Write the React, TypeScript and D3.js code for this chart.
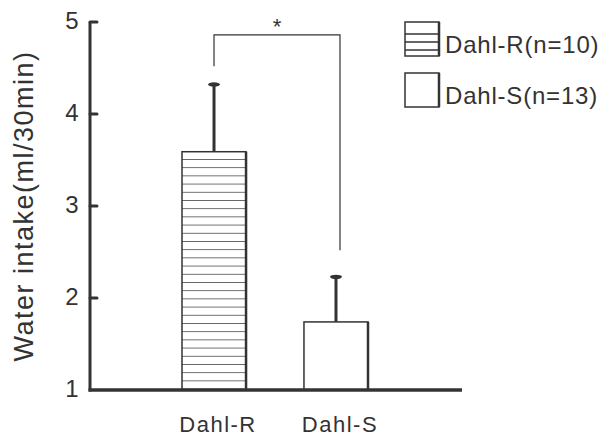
import { useEffect, useRef } from "react";
import * as d3 from "d3";

const categories = ["Dahl-R", "Dahl-S"];
const means = [3.59, 1.74];
const sems = [0.73, 0.49];
const legendLabels = ["Dahl-R(n=10)", "Dahl-S(n=13)"];
const yTicks = [1, 2, 3, 4, 5];
// significance bracket: left foot, top, right foot (in data units)
const bracket = [4.52, 4.86, 2.52];

export default function App() {
  const svgRef = useRef<SVGSVGElement>(null);

  useEffect(() => {
    const ink = "#333";
    const font = "'Liberation Sans', Arial, sans-serif";

    const svg = d3.select(svgRef.current);
    svg.selectAll("*").remove();

    const y = d3.scaleLinear().domain([1, 5]).range([390, 22]);
    const x = d3
      .scaleBand<string>()
      .domain(categories)
      .range([182, 368])
      .paddingInner(0.475)
      .paddingOuter(0);

    const defs = svg.append("defs");
    const pat = defs
      .append("pattern")
      .attr("id", "hatch")
      .attr("patternUnits", "userSpaceOnUse")
      .attr("width", 10)
      .attr("height", 8.2)
      .attr("y", y(means[0]));
    pat.append("rect").attr("width", 10).attr("height", 8.2).attr("fill", "#fff");
    pat
      .append("line")
      .attr("x1", 0)
      .attr("x2", 10)
      .attr("y1", 8.2)
      .attr("y2", 8.2)
      .attr("stroke", ink)
      .attr("stroke-width", 1.4);

    // bars
    categories.forEach((c, i) => {
      const bx = x(c)!;
      const bw = x.bandwidth();
      svg
        .append("rect")
        .attr("x", bx)
        .attr("y", y(means[i]))
        .attr("width", bw)
        .attr("height", y(1) - y(means[i]))
        .attr("fill", i === 0 ? "url(#hatch)" : "#fff")
        .attr("stroke", ink)
        .attr("stroke-width", 1.5);
      svg
        .append("line")
        .attr("x1", bx + bw)
        .attr("x2", bx + bw)
        .attr("y1", y(means[i]))
        .attr("y2", y(1))
        .attr("stroke", ink)
        .attr("stroke-width", 2.5);

      const cx = bx + bw / 2;
      svg
        .append("line")
        .attr("x1", cx)
        .attr("x2", cx)
        .attr("y1", y(means[i]))
        .attr("y2", y(means[i] + sems[i]))
        .attr("stroke", ink)
        .attr("stroke-width", 3);
      svg
        .append("ellipse")
        .attr("cx", cx)
        .attr("cy", y(means[i] + sems[i]))
        .attr("rx", 6)
        .attr("ry", 2.2)
        .attr("fill", ink);

      svg
        .append("text")
        .attr("x", cx + 4)
        .attr("y", 432)
        .attr("text-anchor", "middle")
        .attr("font-family", font)
        .attr("font-size", 22)
        .attr("letter-spacing", 1.5)
        .attr("fill", ink)
        .text(c);
    });

    // significance bracket
    const lx = x(categories[0])! + x.bandwidth() / 2;
    const rx = x(categories[1])! + x.bandwidth() / 2 + 4;
    svg
      .append("path")
      .attr(
        "d",
        d3.line()([
          [lx, y(bracket[0])],
          [lx, y(bracket[1])],
          [rx, y(bracket[1])],
          [rx, y(bracket[2])],
        ])
      )
      .attr("fill", "none")
      .attr("stroke", ink)
      .attr("stroke-width", 1.2);
    svg
      .append("text")
      .attr("x", (lx + rx) / 2)
      .attr("y", y(bracket[1]) - 1)
      .attr("text-anchor", "middle")
      .attr("font-family", font)
      .attr("font-size", 22)
      .attr("fill", ink)
      .text("*");

    // axes
    svg
      .append("line")
      .attr("x1", 90)
      .attr("x2", 90)
      .attr("y1", y(5))
      .attr("y2", y(1) + 1.5)
      .attr("stroke", ink)
      .attr("stroke-width", 3);
    svg
      .append("line")
      .attr("x1", 88.5)
      .attr("x2", 462)
      .attr("y1", y(1))
      .attr("y2", y(1))
      .attr("stroke", ink)
      .attr("stroke-width", 3.5);

    yTicks.forEach((t) => {
      if (t !== 1) {
        svg
          .append("line")
          .attr("x1", 90)
          .attr("x2", 97)
          .attr("y1", y(t))
          .attr("y2", y(t))
          .attr("stroke", ink)
          .attr("stroke-width", 3)
          .attr("stroke-linecap", "round");
      }
      svg
        .append("text")
        .attr("x", 72)
        .attr("y", y(t) + 7)
        .attr("text-anchor", "middle")
        .attr("font-family", font)
        .attr("font-size", 24)
        .attr("fill", ink)
        .text(t);
    });

    svg
      .append("text")
      .attr("transform", `translate(33,206) rotate(-90)`)
      .attr("text-anchor", "middle")
      .attr("font-family", font)
      .attr("font-size", 27)
      .attr("letter-spacing", 1.5)
      .attr("fill", ink)
      .text("Water intake(ml/30min)");

    // legend
    legendLabels.forEach((l, i) => {
      const ly = 22 + i * 51;
      svg
        .append("rect")
        .attr("x", 405)
        .attr("y", ly)
        .attr("width", 34)
        .attr("height", 34)
        .attr("fill", "#fff")
        .attr("stroke", ink)
        .attr("stroke-width", 1.5);
      if (i === 0) {
        [12, 20, 28].forEach((o) => {
          svg
            .append("line")
            .attr("x1", 405)
            .attr("x2", 439)
            .attr("y1", ly + o)
            .attr("y2", ly + o)
            .attr("stroke", ink)
            .attr("stroke-width", 1.4);
        });
      }
      svg
        .append("line")
        .attr("x1", 439)
        .attr("x2", 439)
        .attr("y1", ly)
        .attr("y2", ly + 34)
        .attr("stroke", ink)
        .attr("stroke-width", 2.5);
      svg
        .append("text")
        .attr("x", 445)
        .attr("y", ly + 31)
        .attr("font-family", font)
        .attr("font-size", 24)
        .attr("letter-spacing", 0.8)
        .attr("fill", ink)
        .text(l);
    });
  }, []);

  return (
    <svg
      ref={svgRef}
      width={606}
      height={438}
      viewBox="0 0 606 438"
      style={{ position: "absolute", left: 0, top: 0, background: "#fff" }}
    />
  );
}
